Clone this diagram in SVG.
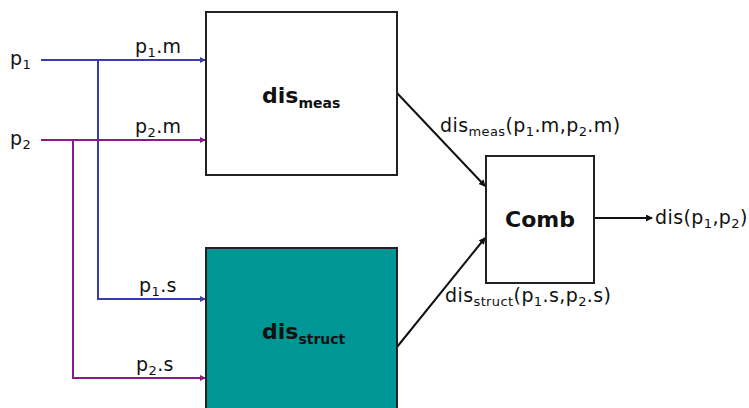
<svg xmlns="http://www.w3.org/2000/svg" width="749" height="408" viewBox="0 0 749 408">
  <style>
    text { font-family: "DejaVu Sans", Verdana, sans-serif; fill: #111; }
    .lbl { font-size: 19px; letter-spacing: 0.4px; }
    .sub { font-size: 13px; }
    .title { font-size: 22px; font-weight: bold; }
    .tsub { font-size: 14px; font-weight: bold; }
    .box { stroke: #222; stroke-width: 2; }
    .blue { stroke: #3b3bb0; stroke-width: 2; fill: none; }
    .purple { stroke: #8a1a8a; stroke-width: 2; fill: none; }
    .black { stroke: #111; stroke-width: 2; fill: none; }
  </style>
  <defs>
    <marker id="ah-blue" markerWidth="6" markerHeight="6" refX="5" refY="3" orient="auto" markerUnits="userSpaceOnUse">
      <path d="M0,0 L6,3 L0,6 z" fill="#3b3bb0"/>
    </marker>
    <marker id="ah-purple" markerWidth="6" markerHeight="6" refX="5" refY="3" orient="auto" markerUnits="userSpaceOnUse">
      <path d="M0,0 L6,3 L0,6 z" fill="#8a1a8a"/>
    </marker>
    <marker id="ah-black" markerWidth="7" markerHeight="7" refX="6" refY="3.5" orient="auto" markerUnits="userSpaceOnUse">
      <path d="M0,0 L7,3.5 L0,7 z" fill="#111"/>
    </marker>
  </defs>

  <rect width="749" height="408" fill="#fff"/>

  <!-- connectors -->
  <g id="connectors">
    <line class="blue" x1="41" y1="60" x2="205" y2="60" marker-end="url(#ah-blue)"/>
    <polyline class="blue" points="98,60 98,299 205,299" marker-end="url(#ah-blue)"/>
    <line class="purple" x1="41" y1="140" x2="205" y2="140" marker-end="url(#ah-purple)"/>
    <polyline class="purple" points="73,140 73,378 205,378" marker-end="url(#ah-purple)"/>
    <line class="black" x1="397" y1="93" x2="485" y2="186" marker-end="url(#ah-black)"/>
    <line class="black" x1="397" y1="347" x2="485" y2="238" marker-end="url(#ah-black)"/>
    <line class="black" x1="594" y1="218" x2="652" y2="218" marker-end="url(#ah-black)"/>

    <text class="lbl" x="10" y="65">p<tspan class="sub" dy="4">1</tspan></text>
    <text class="lbl" x="10" y="145">p<tspan class="sub" dy="4">2</tspan></text>
    <text class="lbl" x="135" y="53">p<tspan class="sub" dy="4">1</tspan><tspan dy="-4">.m</tspan></text>
    <text class="lbl" x="135" y="133">p<tspan class="sub" dy="4">2</tspan><tspan dy="-4">.m</tspan></text>
    <text class="lbl" x="139" y="292">p<tspan class="sub" dy="4">1</tspan><tspan dy="-4">.s</tspan></text>
    <text class="lbl" x="136" y="371">p<tspan class="sub" dy="4">2</tspan><tspan dy="-4">.s</tspan></text>
    <text class="lbl" x="440" y="132">dis<tspan class="sub" dy="4">meas</tspan><tspan dy="-4">(p</tspan><tspan class="sub" dy="4">1</tspan><tspan dy="-4">.m,p</tspan><tspan class="sub" dy="4">2</tspan><tspan dy="-4">.m)</tspan></text>
    <text class="lbl" x="445" y="302">dis<tspan class="sub" dy="4">struct</tspan><tspan dy="-4">(p</tspan><tspan class="sub" dy="4">1</tspan><tspan dy="-4">.s,p</tspan><tspan class="sub" dy="4">2</tspan><tspan dy="-4">.s)</tspan></text>
    <text class="lbl" x="655" y="224">dis(p<tspan class="sub" dy="4">1</tspan><tspan dy="-4">,p</tspan><tspan class="sub" dy="4">2</tspan><tspan dy="-4">)</tspan></text>
  </g>

  <g id="dis-meas">
    <rect class="box" x="206" y="12" width="191" height="163" fill="#fff"/>
    <text class="title" x="262" y="103">dis<tspan class="tsub" dy="5">meas</tspan></text>
  </g>

  <g id="dis-struct">
    <rect class="box" x="206" y="248" width="191" height="170" fill="#009696"/>
    <text class="title" x="262" y="339">dis<tspan class="tsub" dy="5">struct</tspan></text>
  </g>

  <g id="comb">
    <rect class="box" x="486" y="156" width="108" height="127" fill="#fff"/>
    <text class="title" x="540" y="227" text-anchor="middle">Comb</text>
  </g>
</svg>
